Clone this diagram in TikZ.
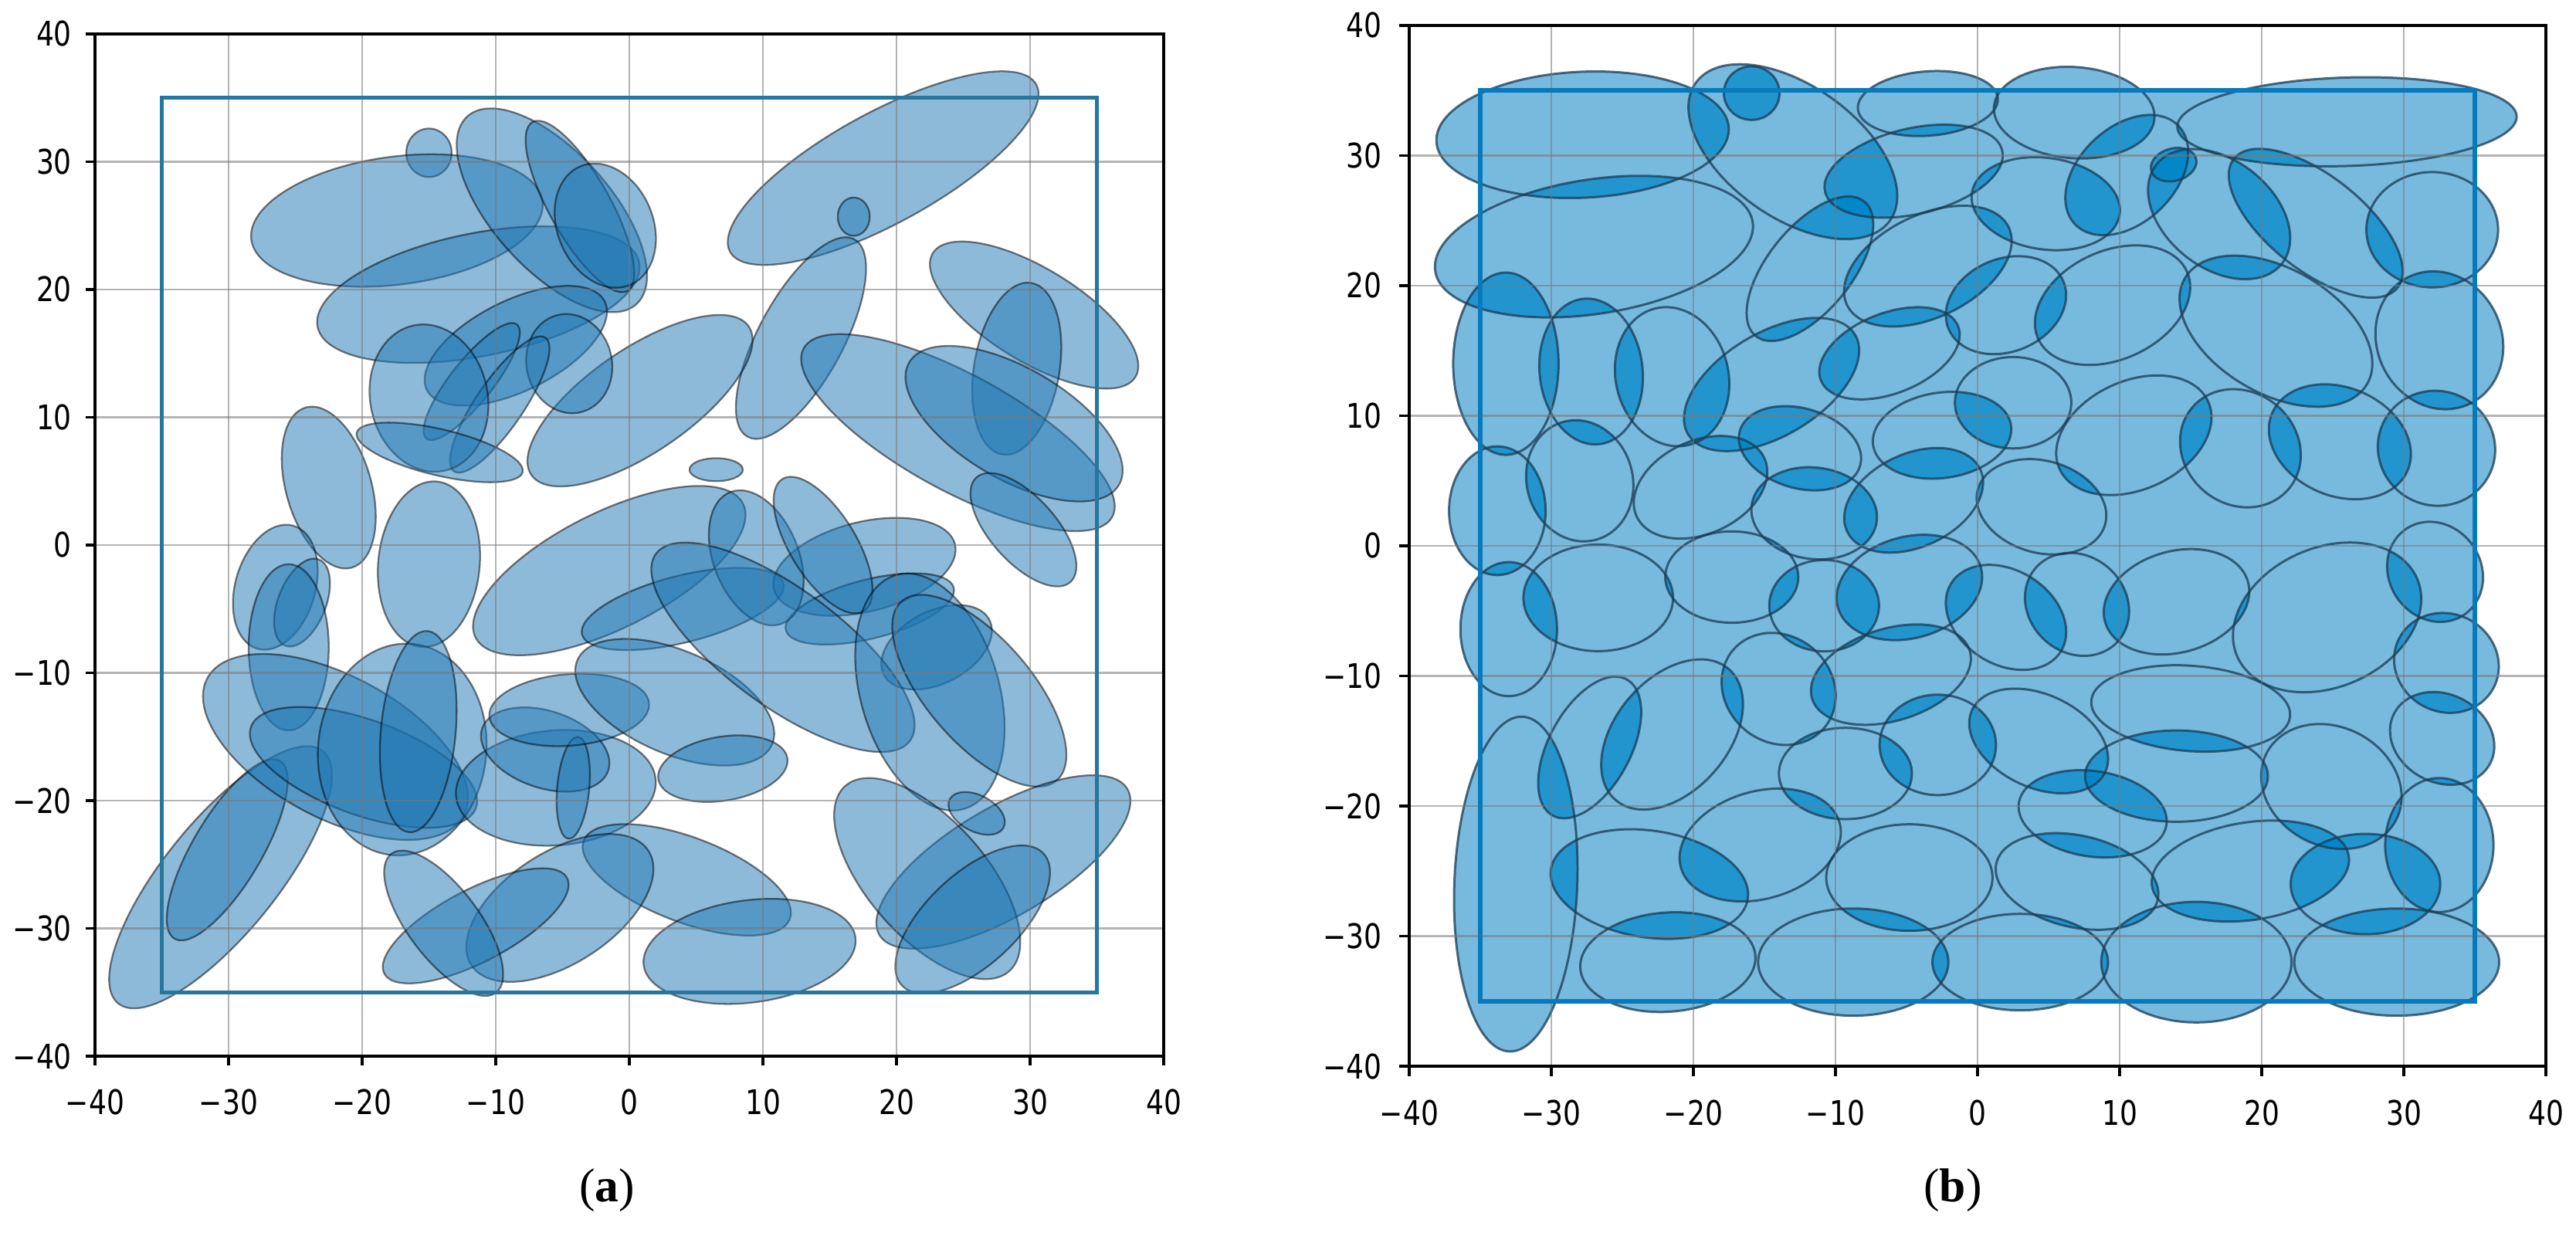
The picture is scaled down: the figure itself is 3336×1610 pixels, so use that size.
\documentclass[tikz,border=0pt]{standalone}
\usepackage{fontspec}
\usepackage{graphicx}
\setmainfont{Liberation Serif}
\newfontfamily\tickfont{DejaVu Sans}
\definecolor{cA}{RGB}{31,119,180}
\definecolor{cBS}{RGB}{120,186,222}
\definecolor{lensc}{RGB}{0,134,200}
\definecolor{edgeb}{RGB}{25,60,85}
\definecolor{sqA}{RGB}{38,118,158}
\definecolor{sqB}{RGB}{8,122,188}
\definecolor{gridc}{RGB}{120,120,120}
\tikzset{
  ella/.style={fill=cA, fill opacity=0.5, draw=black, draw opacity=0.5, line width=0.65pt},
  cellfill/.style={fill=cBS},
  lensfill/.style={fill=lensc, fill opacity=0.7},
  celledge/.style={draw=edgeb, draw opacity=0.75, line width=0.85pt},
  gridline/.style={draw=gridc, line width=0.7pt, opacity=0.55},
  framebox/.style={draw=black, line width=1.1pt},
  tickmark/.style={draw=black, line width=0.9pt},
  ticklab/.style={font=\tickfont\fontsize{12.5}{14}\selectfont, inner sep=0pt},
  captext/.style={font=\fontsize{17.5}{20}\selectfont, inner sep=0pt},
}
\newcommand\EllA[5]{\path[ella, rotate around={#5:(#1,#2)}] (#1,#2) ellipse ({#3} and {#4});}
\newcommand\kB{1.17}
% ---- registry of the cells of panel (b)
\newcount\ellcount
\ellcount=0
\newcommand\RegStore[5]{\global\advance\ellcount by 1
  \expandafter\xdef\csname ex\the\ellcount\endcsname{#1}%
  \expandafter\xdef\csname ey\the\ellcount\endcsname{#2}%
  \expandafter\xdef\csname ea\the\ellcount\endcsname{#3}%
  \expandafter\xdef\csname eb\the\ellcount\endcsname{#4}%
  \expandafter\xdef\csname et\the\ellcount\endcsname{#5}}
\newcommand\RegI[5]{\pgfmathsetmacro\tmpra{#3*\kB}\pgfmathsetmacro\tmprb{#4*\kB}%
  \RegStore{#1}{#2}{\tmpra}{\tmprb}{#5}}
\newcommand\RegO[5]{\pgfmathsetmacro\tmpra{#3*1.03}\pgfmathsetmacro\tmprb{#4*1.03}%
  \RegStore{#1}{#2}{\tmpra}{\tmprb}{#5}}
\newcommand\Eget[2]{\csname e#1#2\endcsname}
% cells of panel (b): #1 = command for inner cells, #2 = command for border cells
\newcommand\BCells[2]{%
#2{-27.8}{31.6}{10}{4.7}{-3}%
#2{-15.9}{34.8}{1.9}{2.0}{0}%
#1{-13}{30.3}{7.4}{4.2}{40}%
#2{-3.5}{34}{4.8}{2.4}{-5}%
#1{-4.5}{28.8}{5.5}{2.8}{-15}%
#2{-27}{23}{11}{5}{-10}%
#1{-11.8}{21.3}{5.5}{2.6}{-55}%
#1{-3.5}{21.5}{5.5}{3.3}{-30}%
#2{-33.2}{14}{6.8}{3.6}{90}%
#1{-27.2}{13.4}{4.8}{3.1}{85}%
#1{-21.5}{13}{4.6}{3.4}{80}%
#1{-14.5}{12.4}{6}{3.3}{-35}%
#1{-6.2}{14.8}{4.5}{2.6}{-25}%
#1{-2.5}{8.5}{4.2}{2.8}{-10}%
#1{-12.5}{7.5}{3.8}{2.6}{20}%
#2{-33.8}{2.7}{4.8}{3.3}{90}%
#1{-28}{5}{4}{3.2}{80}%
#1{-19.5}{4.5}{4.3}{3}{-30}%
#1{-11.5}{2.5}{3.8}{3}{10}%
#1{-4.5}{3.5}{4.5}{3}{-30}%
#2{6.8}{33.3}{5.5}{3.4}{5}%
#2{13.8}{29.3}{1.6}{1.2}{-20}%
#2{26}{32.6}{11.6}{3.3}{-2}%
#1{4.8}{26.3}{4.5}{3}{10}%
#1{10.5}{28.5}{4.5}{3}{-50}%
#1{17}{25.5}{5}{3.4}{45}%
#1{23.8}{24.8}{6.5}{3}{42}%
#2{32}{24.3}{4.5}{4.3}{0}%
#1{2}{18.5}{3.8}{3}{-30}%
#1{9.5}{18.5}{5}{3.5}{-30}%
#1{21}{16.5}{6.5}{4}{35}%
#2{32.5}{15.8}{5.2}{4.3}{75}%
#1{2.5}{11}{3.5}{3}{0}%
#1{11}{8.5}{5}{3.5}{-30}%
#1{18.5}{7.5}{4}{3.5}{60}%
#1{25.5}{8}{4.5}{3.5}{30}%
#2{32.3}{7.5}{4.3}{4}{80}%
#1{4.5}{3}{4}{3}{20}%
#1{2}{-5.5}{4}{3}{40}%
#1{7}{-4.5}{3.5}{3}{60}%
#1{14}{-4.3}{4.5}{3.3}{-20}%
#1{24.6}{-5.5}{6}{4.5}{-30}%
#2{32.2}{-2}{3.8}{3.2}{70}%
#2{33}{-9}{3.8}{3.5}{60}%
#1{15}{-12.5}{6}{2.8}{5}%
#1{4.3}{-15}{4.5}{3}{30}%
#1{14}{-17.7}{5.5}{3}{0}%
#1{24.9}{-18.5}{4.5}{3.8}{40}%
#2{32.7}{-14.8}{3.8}{3.2}{40}%
#2{32.5}{-23}{5}{3.7}{90}%
#1{8.1}{-20.6}{4.5}{2.8}{10}%
#1{7}{-25.8}{5}{3}{15}%
#1{19.2}{-25}{6}{3.2}{-10}%
#1{27.3}{-26}{4.5}{3.3}{0}%
#2{3}{-32}{6}{3.6}{0}%
#2{15.4}{-32}{6.5}{4.5}{0}%
#2{29.5}{-32}{7}{4}{0}%
#2{-33}{-6.4}{5}{3.3}{90}%
#1{-26.7}{-4}{4.5}{3.5}{0}%
#1{-17.3}{-2.4}{4}{3}{0}%
#1{-10.8}{-4.6}{3.3}{3}{0}%
#1{-4.8}{-3.2}{4.5}{3.3}{-20}%
#1{-21.5}{-14.5}{5.5}{3.5}{-55}%
#1{-27.3}{-15.5}{5}{2.5}{-65}%
#1{-14}{-11}{3.8}{3.3}{60}%
#1{-6.1}{-9.9}{5}{3}{-20}%
#1{-9.3}{-17.5}{4}{3}{0}%
#1{-2.8}{-15.3}{3.5}{3.3}{0}%
#1{-23.1}{-26}{6}{3.5}{10}%
#1{-15.3}{-23}{5}{3.5}{-20}%
#1{-4.8}{-25.5}{5}{3.5}{0}%
#2{-32.5}{-26}{12.5}{4.2}{92}%
#2{-21.8}{-32}{6}{3.7}{-5}%
#2{-8.75}{-32}{6.5}{4}{0}%
}
\BCells\RegI\RegO
\edef\nCells{\the\ellcount}
\newcommand\LoadA[1]{\edef\cxA{\Eget{x}{#1}}\edef\cyA{\Eget{y}{#1}}\edef\caA{\Eget{a}{#1}}\edef\cbA{\Eget{b}{#1}}\edef\ctA{\Eget{t}{#1}}}
\newcommand\LoadB[1]{\edef\cxB{\Eget{x}{#1}}\edef\cyB{\Eget{y}{#1}}\edef\caB{\Eget{a}{#1}}\edef\cbB{\Eget{b}{#1}}\edef\ctB{\Eget{t}{#1}}}
\newcommand\AxesDecor[2]{%
  \foreach \v in {-30,-20,...,30} {
    \draw[gridline] (\v,-40) -- (\v,40);
    \draw[gridline] (-40,\v) -- (40,\v);
  }
  \draw[framebox] (-40,-40) rectangle (40,40);
  \foreach \v/\s in {-40/{−40},-30/{−30},-20/{−20},-10/{−10},0/0,10/10,20/20,30/30,40/40} {
    \draw[tickmark] (\v,-40) -- (\v,-40.75);
    \draw[tickmark] (-40,\v) -- (-40.7,\v);
    \node[ticklab, anchor=center] (bx#2\v) at (\v,-43.6) {\scalebox{0.82}[1]{\s}};
    \node[ticklab, anchor=east] (ly#2\v) at (#1,\v) {\scalebox{0.82}[1]{\s}};
  }
}
\begin{document}
\begin{tikzpicture}[x=0.01cm,y=-0.01cm]
\useasboundingbox (0,0) rectangle (3336,1610);
\fill[white] (0,0) rectangle (3336,1610);

% ---------------- panel (a) ----------------
\begin{scope}[shift={(815,706)}, xscale=17.3, yscale=-16.55]
\EllA{-15}{30.7}{1.7}{1.9}{0}
\EllA{-17.4}{25.4}{11}{5}{-8}
\EllA{-11.3}{19.6}{12.3}{4.8}{-12}
\EllA{-5.8}{26.2}{9.7}{4.5}{50}
\EllA{-3.7}{26.5}{7.5}{2.3}{62}
\EllA{-1.8}{25}{5}{3.6}{70}
\EllA{19}{29.5}{13.2}{4.3}{-30}
\EllA{16.8}{25.7}{1.2}{1.5}{0}
\EllA{12.85}{16.2}{8.7}{3.2}{-63}
\EllA{30.3}{18}{9}{3.6}{33}
\EllA{29}{13.8}{6.8}{3.2}{-81}
\EllA{24.6}{8.8}{13.3}{4.5}{30}
\EllA{28.8}{9.5}{9.2}{4.3}{32}
\EllA{29.5}{1.2}{5.4}{2.5}{50}
\EllA{-8.5}{15.6}{7.5}{3.5}{-28}
\EllA{0.8}{11.3}{10}{4}{-36}
\EllA{-4.5}{14.2}{3.9}{3.2}{80}
\EllA{-11.8}{12.8}{5.6}{1.6}{-53}
\EllA{-9.7}{11}{6.25}{1.8}{-57}
\EllA{-15}{11.5}{5.8}{4.4}{80}
\EllA{-14.2}{7.25}{6.4}{1.8}{14}
\EllA{-22.5}{4.5}{6.5}{3.2}{75}
\EllA{-15}{-1.5}{6.5}{3.8}{95}
\EllA{-26.5}{-3.3}{5}{3}{-75}
\EllA{-24.5}{-4.5}{3.6}{1.8}{-70}
\EllA{-1.5}{-2}{11.3}{4.5}{-28}
\EllA{-25.5}{-8}{6.5}{3}{90}
\EllA{4}{-5}{7.8}{2.6}{-15}
\EllA{17.6}{-1.7}{7}{3.5}{-15}
\EllA{18}{-5}{6.5}{2.3}{-15}
\EllA{23}{-8}{4.5}{2.8}{-30}
\EllA{6.5}{5.9}{2}{0.9}{0}
\EllA{9.5}{-1}{5.5}{3.2}{70}
\EllA{14.5}{0}{6}{2.5}{60}
\EllA{-30.6}{-26}{12.5}{4.3}{-52.5}
\EllA{-30.1}{-23.85}{8}{2.6}{-60.7}
\EllA{-22}{-15.8}{11}{5.5}{30}
\EllA{-19.9}{-17.4}{9}{3.7}{21}
\EllA{-17}{-16}{8.3}{6.3}{95}
\EllA{-15.8}{-14.6}{7.9}{2.8}{95}
\EllA{-5.5}{-19}{7.5}{4.5}{-5}
\EllA{-6.3}{-16}{5}{3}{20}
\EllA{-4.2}{-19}{4}{1.2}{95}
\EllA{-4.5}{-12.9}{6}{2.8}{-5}
\EllA{3.4}{-12.3}{8}{4}{25}
\EllA{7}{-17.5}{4.9}{2.5}{-10}
\EllA{11.5}{-8}{12}{4.5}{38}
\EllA{22.5}{-11.5}{9.5}{5.2}{75}
\EllA{26.2}{-11.4}{9.1}{4}{51}
\EllA{28}{-24.8}{10.9}{4.2}{-32}
\EllA{22.3}{-26.1}{9.5}{4.5}{50.5}
\EllA{25.7}{-29.3}{7.4}{3.5}{-45}
\EllA{26}{-21}{2.3}{1.4}{30}
\EllA{4.3}{-26.2}{8.3}{3.3}{22}
\EllA{9}{-31.8}{8}{4}{-8}
\EllA{-5.2}{-28.4}{8}{4.3}{-35}
\EllA{-11.5}{-29.8}{7.8}{2.8}{-29}
\EllA{-13.9}{-29.6}{6.7}{2.7}{54.7}
\AxesDecor{-41.7}{a}
\draw[draw=sqA, line width=1.3pt] (-35,-35) rectangle (35,35);
\end{scope}

% ---------------- panel (b) ----------------
\begin{scope}[shift={(2561,707)}, xscale=18.4, yscale=-16.85]
% single cover: opaque light blue
\foreach \i in {1,...,\nCells} {
  \LoadA{\i}
  \path[cellfill, rotate around={\ctA:(\cxA,\cyA)}] (\cxA,\cyA) ellipse ({\caA} and {\cbA});
}
\fill[cellfill] (-35,-35) rectangle (35,35);
% overlaps of neighbouring cells: darker lenses
\foreach \i in {1,...,\nCells} {
  \foreach \j in {1,...,\nCells} {
    \ifnum\j>\i\relax
      \LoadA{\i}\LoadB{\j}
      \pgfmathsetmacro\pdist{veclen((\cxA)-(\cxB),(\cyA)-(\cyB))}
      \pgfmathsetmacro\psum{max(\caA,\cbA)+max(\caB,\cbB)}
      \ifdim\pdist pt<\psum pt\relax
        \begin{scope}
          \clip[rotate around={\ctA:(\cxA,\cyA)}] (\cxA,\cyA) ellipse ({\caA} and {\cbA});
          \path[lensfill, rotate around={\ctB:(\cxB,\cyB)}] (\cxB,\cyB) ellipse ({\caB} and {\cbB});
        \end{scope}
      \fi
    \fi
  }
}
% cell outlines
\foreach \i in {1,...,\nCells} {
  \LoadA{\i}
  \path[celledge, rotate around={\ctA:(\cxA,\cyA)}] (\cxA,\cyA) ellipse ({\caA} and {\cbA});
}
\AxesDecor{-41.9}{b}
\draw[draw=sqB, line width=1.7pt] (-35,-35) rectangle (35,35);
\end{scope}

% captions
\node[captext] (capa) at (786,1542) {(\textbf{a})};
\node[captext] (capb) at (2529,1542) {(\textbf{b})};
\end{tikzpicture}
\end{document}
